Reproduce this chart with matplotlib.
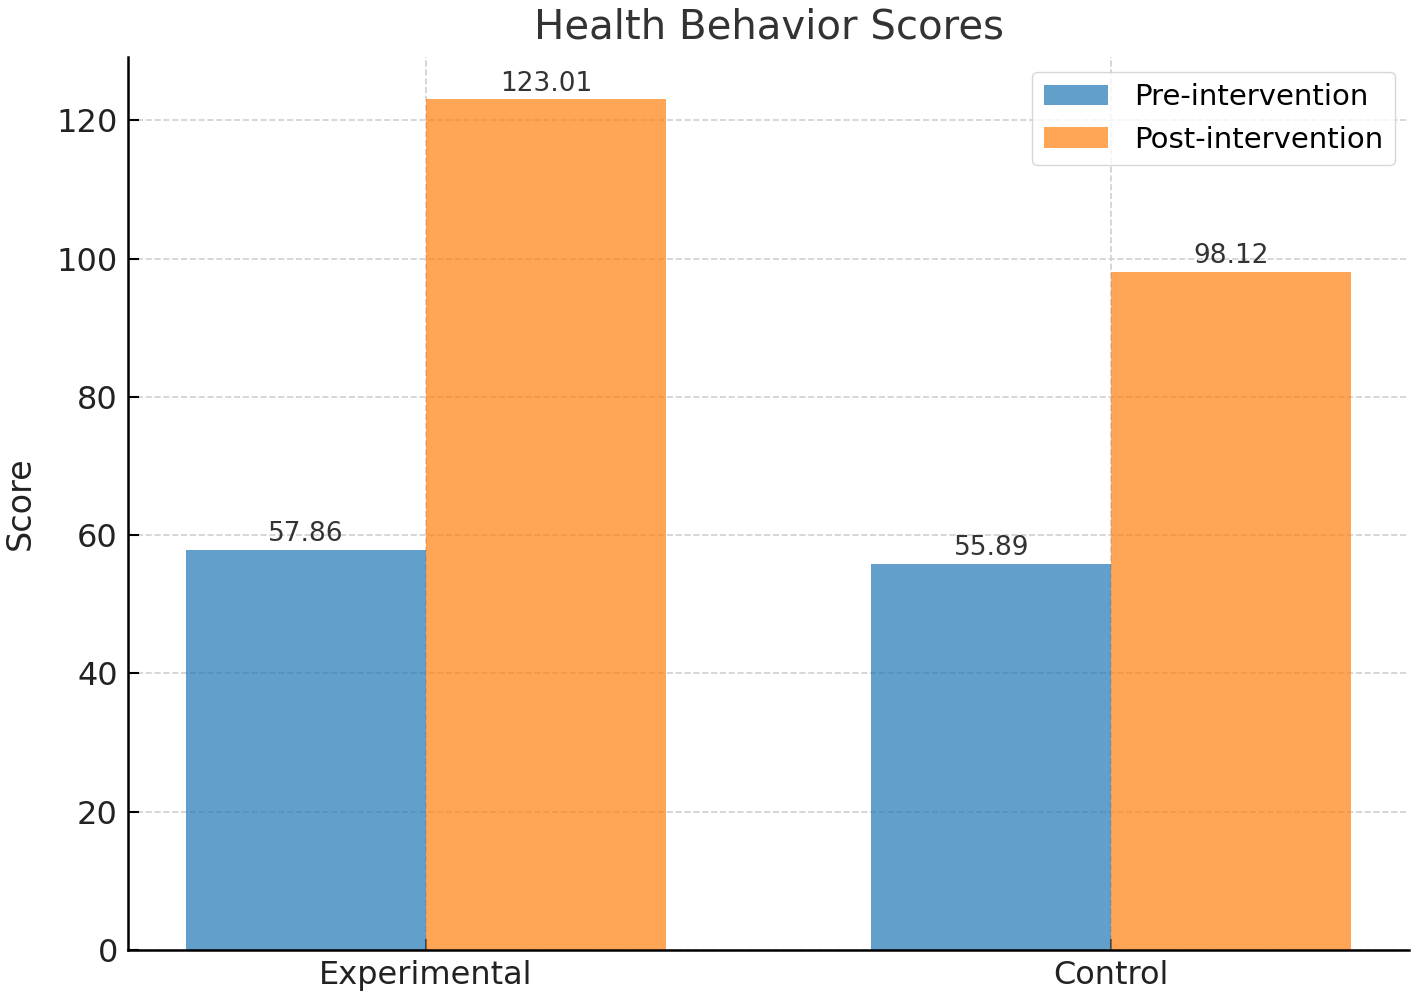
import matplotlib.pyplot as plt
import numpy as np

groups = ['Experimental', 'Control']
pre_scores = [57.86, 55.89]
post_scores = [123.01, 98.12]
series_names = ['Pre-intervention', 'Post-intervention']

fig, ax = plt.subplots(figsize=(14.18, 9.99), dpi=100)
fig.subplots_adjust(left=0.09, right=0.994, bottom=0.049, top=0.943)

x = np.arange(len(groups))
width = 0.35

bars_pre = ax.bar(x - width / 2, pre_scores, width, label=series_names[0],
                  color='tab:blue', alpha=0.7)
bars_post = ax.bar(x + width / 2, post_scores, width, label=series_names[1],
                   color='tab:orange', alpha=0.7)

for bars in (bars_pre, bars_post):
    for b in bars:
        h = b.get_height()
        ax.annotate(f'{h:.2f}', xy=(b.get_x() + b.get_width() / 2, h),
                    xytext=(0, 2), textcoords='offset points',
                    ha='center', va='bottom', fontsize=19, color='#333333')

ax.set_title('Health Behavior Scores', fontsize=29, color='#333333', pad=13)
ax.set_ylabel('Score', fontsize=24, color='#222222', labelpad=14)
ax.set_xticks(x)
ax.set_xticklabels(groups)
ax.set_ylim(0, max(post_scores) * 1.05)
ax.tick_params(axis='both', direction='in', labelsize=23, length=8, width=1.5,
               labelcolor='#222222', pad=7)

ax.grid(True, linestyle='--', color='#d0d0d0', linewidth=1.2)
ax.set_axisbelow(True)
ax.spines['top'].set_visible(False)
ax.spines['right'].set_visible(False)
ax.spines['left'].set_linewidth(1.8)
ax.spines['bottom'].set_linewidth(1.8)

leg = ax.legend(fontsize=21, loc='upper right', handlelength=2.2,
                handletextpad=0.9, borderpad=0.4)
leg.get_frame().set_edgecolor('#cccccc')

fig.savefig('out.png', dpi=100)
